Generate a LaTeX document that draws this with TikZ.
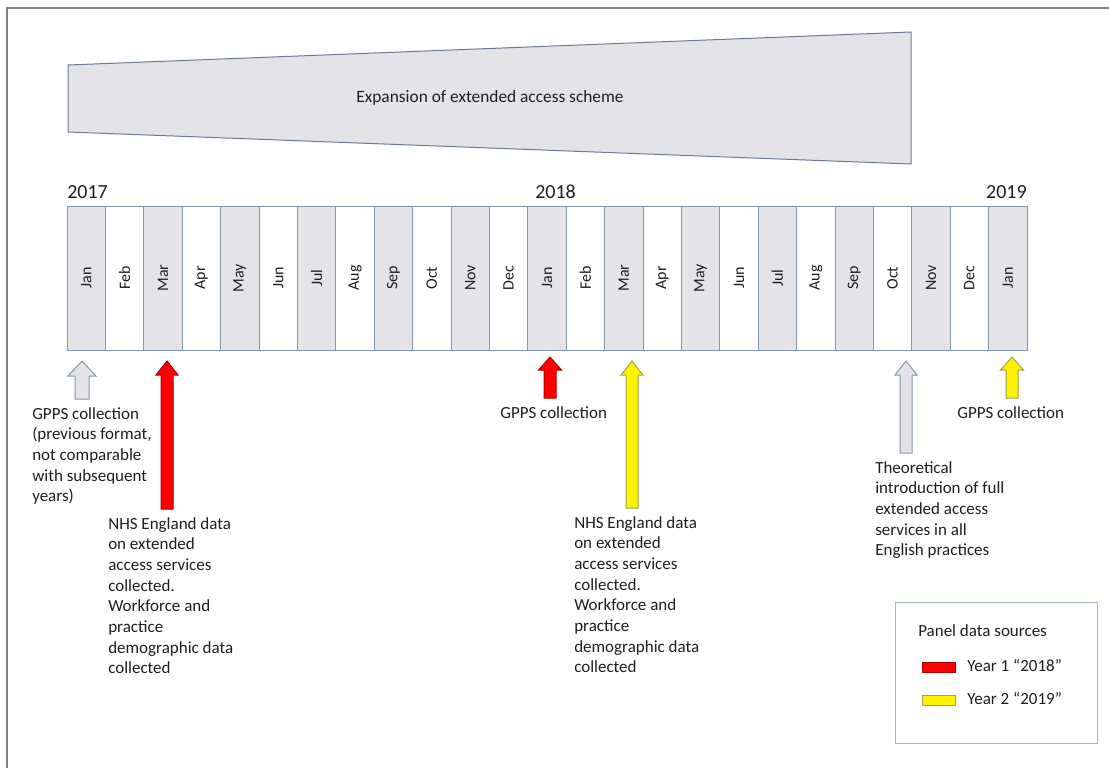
\documentclass[tikz,border=0pt]{standalone}
\usepackage{fontspec}
\setmainfont{Carlito}
\usepackage{tikz}
\usetikzlibrary{calc,positioning}
\definecolor{panelgrey}{HTML}{E4E4E8}
\definecolor{slateline}{HTML}{8497B0}
\definecolor{wedgeline}{HTML}{6C7A96}
\definecolor{framegrey}{HTML}{808080}
\definecolor{legendline}{HTML}{A4B2D6}
\definecolor{darkred}{HTML}{B00000}
\definecolor{yellowline}{HTML}{A0A050}
\definecolor{inkblack}{HTML}{1E1E1E}

\tikzset{
  month/.style={draw=slateline, line width=0.75pt, rotate=90, minimum width=108pt, minimum height=28.8pt, inner sep=0pt, text=inkblack, font=\fontsize{12}{14}\selectfont},
  note/.style={anchor=north west, align=left, inner sep=0pt, text=inkblack, font=\fontsize{12.75}{15.5}\selectfont},
  year/.style={inner sep=0pt, text=inkblack, font=\fontsize{15}{18}\selectfont},
  greyarrow/.style={fill=panelgrey, draw=slateline, line width=0.75pt},
  redarrow/.style={fill=red, draw=darkred, line width=0.75pt},
  yellowarrow/.style={fill=yellow, draw=yellowline, line width=0.75pt},
  swatch/.style={minimum width=24.75pt, minimum height=7.5pt, inner sep=0pt, anchor=west, line width=0.75pt}
}

% block arrow from tip down to just above a label: tip, label, half shaft, half head, head length, style
\newcommand\blockarrow[6]{%
  \draw[#6] let \p1=(#1), \p2=(#2.north) in
    (\x1,\y1) -- (\x1+#4,\y1-#5) -- (\x1+#3,\y1-#5) -- (\x1+#3,\y2+6pt)
    -- (\x1-#3,\y2+6pt) -- (\x1-#3,\y1-#5) -- (\x1-#4,\y1-#5) -- cycle;}

\begin{document}
\begin{tikzpicture}[x=0.75pt, y=-0.75pt]
  \useasboundingbox (0,0) rectangle (1109,768);
  % slide frame
  \draw[framegrey, line width=1.5pt] (7,768) -- (7,8) -- (1109,8);
  % Expansion wedge
  \draw[fill=panelgrey, draw=wedgeline, line width=0.75pt] (68,65) -- (911,32) -- (911,164) -- (68,132) -- cycle;
  \node[text=inkblack, font=\fontsize{13}{15}\selectfont] (expand) at (490,98) {Expansion of extended access scheme};
  % the months
  \foreach \m [count=\i from 0] in {Jan,Feb,Mar,Apr,May,Jun,Jul,Aug,Sep,Oct,Nov,Dec,Jan,Feb,Mar,Apr,May,Jun,Jul,Aug,Sep,Oct,Nov,Dec,Jan} {
    \ifodd\i \def\mfill{white}\else \def\mfill{panelgrey}\fi
    \node[month, fill=\mfill] (m\i) at (86.2+38.4*\i,278) {\m};
  }
  % years
  \node[year, anchor=base west] (y2017) at (67,198) {2017};
  \node[year, anchor=base west] (y2018) at (535,198) {2018};
  \node[year, anchor=base east] (y2019) at (1027,198) {2019};
  % label the events
  \node[note] (gpps17) at (32,407) {GPPS collection\\(previous format,\\not comparable\\with subsequent\\years)};
  \node[note] (nhs17) at (108,517) {NHS England data\\on extended\\access services\\collected.\\Workforce and\\practice\\demographic data\\collected};
  \node[note] (gpps18) at (500,406) {GPPS collection};
  \node[note] (nhs18) at (574,516) {NHS England data\\on extended\\access services\\collected.\\Workforce and\\practice\\demographic data\\collected};
  \node[note] (theory) at (875,461) {Theoretical\\introduction of full\\extended access\\services in all\\English practices};
  \node[note] (gpps19) at (957,406) {GPPS collection};
  % arrow tips under the months
  \coordinate (t1) at (82,361);
  \coordinate (t2) at (167,361);
  \coordinate (t3) at (550,357);
  \coordinate (t4) at (632,361);
  \coordinate (t5) at (906,361);
  \coordinate (t6) at (1012,357);
  \blockarrow{t1}{gpps17}{5.25pt}{10.5pt}{11.25pt}{greyarrow}
  \blockarrow{t2}{nhs17}{4.5pt}{8.25pt}{10.5pt}{redarrow}
  \blockarrow{t3}{gpps18}{4.5pt}{8.6pt}{9.75pt}{redarrow}
  \blockarrow{t4}{nhs18}{4.5pt}{8.25pt}{10.5pt}{yellowarrow}
  \blockarrow{t5}{theory}{4.5pt}{8.25pt}{10.5pt}{greyarrow}
  \blockarrow{t6}{gpps19}{4.5pt}{8.6pt}{9.75pt}{yellowarrow}
  % legend
  \node[draw=legendline, line width=0.75pt, minimum width=151.5pt, minimum height=105.75pt, anchor=north west, inner sep=0pt] (legend) at (895,602) {};
  \node[note, anchor=west] (legtitle) at (918,631) {Panel data sources};
  \node[swatch, draw=darkred, fill=red] (sw1) at (922,667) {};
  \node[note, anchor=west] (yr1) at (967,665) {Year 1 “2018”};
  \node[swatch, draw=yellowline, fill=yellow] (sw2) at (922,700) {};
  \node[note, anchor=west] (yr2) at (967,698) {Year 2 “2019”};
\end{tikzpicture}
\end{document}
